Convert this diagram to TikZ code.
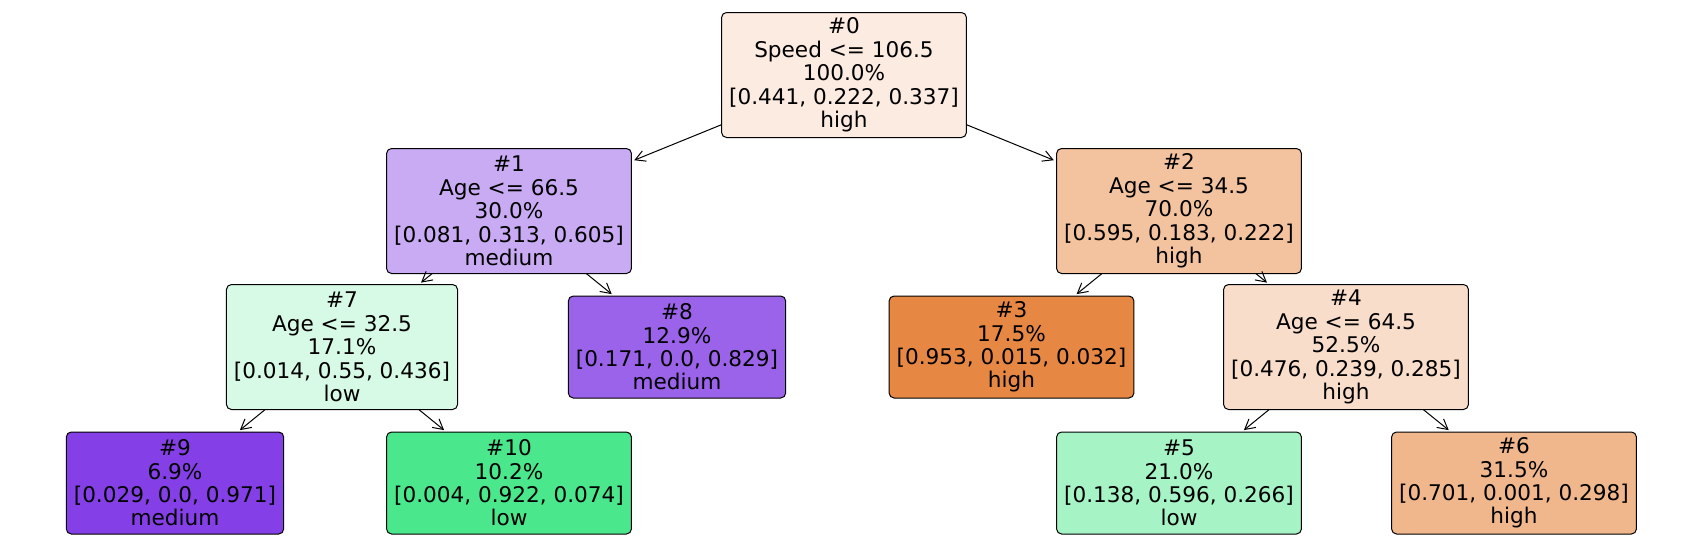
\documentclass[tikz,border=0pt]{standalone}
\usepackage{fontspec}
\setmainfont{DejaVu Sans}
\usetikzlibrary{arrows.meta}
\definecolor{chigh}{RGB}{229,129,57}
\definecolor{clow}{RGB}{57,229,129}
\definecolor{cmed}{RGB}{129,57,229}
\begin{document}
\begin{tikzpicture}[x=0.5pt,y=-0.5pt,
  tn/.style={draw=black, line width=0.5pt, rounded corners=2.5pt, align=center,
    inner xsep=3.75pt, inner ysep=1pt, outer sep=0pt,
    font=\fontsize{10.8}{11.7}\selectfont},
  five/.style={minimum height=62.5pt},
  four/.style={minimum height=51pt},
  arr/.style={-{Straight Barb[length=5pt,width=5.5pt]}, line width=0.5pt, shorten >=1.5pt}]
\useasboundingbox (0,0) rectangle (1688,558);
\node[tn,five,fill=chigh!15.7!white] (n0) at (844,75) {\#0\\Speed <= 106.5\\100.0\%\\{}[0.441, 0.222, 0.337]\\high};
\node[tn,five,fill=cmed!42.5!white] (n1) at (509,211) {\#1\\Age <= 66.5\\30.0\%\\{}[0.081, 0.313, 0.605]\\medium};
\node[tn,five,fill=chigh!47.9!white] (n2) at (1179,211) {\#2\\Age <= 34.5\\70.0\%\\{}[0.595, 0.183, 0.222]\\high};
\node[tn,five,fill=clow!20.2!white] (n7) at (342,347) {\#7\\Age <= 32.5\\17.1\%\\{}[0.014, 0.55, 0.436]\\low};
\node[tn,four,fill=cmed!79.4!white] (n8) at (677,347) {\#8\\12.9\%\\{}[0.171, 0.0, 0.829]\\medium};
\node[tn,four,fill=chigh!95.1!white] (n3) at (1011.5,347) {\#3\\17.5\%\\{}[0.953, 0.015, 0.032]\\high};
\node[tn,five,fill=chigh!26.7!white] (n4) at (1346,347) {\#4\\Age <= 64.5\\52.5\%\\{}[0.476, 0.239, 0.285]\\high};
\node[tn,four,fill=cmed!97!white] (n9) at (175,483) {\#9\\6.9\%\\{}[0.029, 0.0, 0.971]\\medium};
\node[tn,four,fill=clow!91.6!white] (n10) at (509,483) {\#10\\10.2\%\\{}[0.004, 0.922, 0.074]\\low};
\node[tn,four,fill=clow!45!white] (n5) at (1179,483) {\#5\\21.0\%\\{}[0.138, 0.596, 0.266]\\low};
\node[tn,four,fill=chigh!57.4!white] (n6) at (1514,483) {\#6\\31.5\%\\{}[0.701, 0.001, 0.298]\\high};
\draw[arr] (n0) -- (n1);
\draw[arr] (n0) -- (n2);
\draw[arr] (n1) -- (n7);
\draw[arr] (n1) -- (n8);
\draw[arr] (n7) -- (n9);
\draw[arr] (n7) -- (n10);
\draw[arr] (n2) -- (n3);
\draw[arr] (n2) -- (n4);
\draw[arr] (n4) -- (n5);
\draw[arr] (n4) -- (n6);
\end{tikzpicture}
\end{document}
